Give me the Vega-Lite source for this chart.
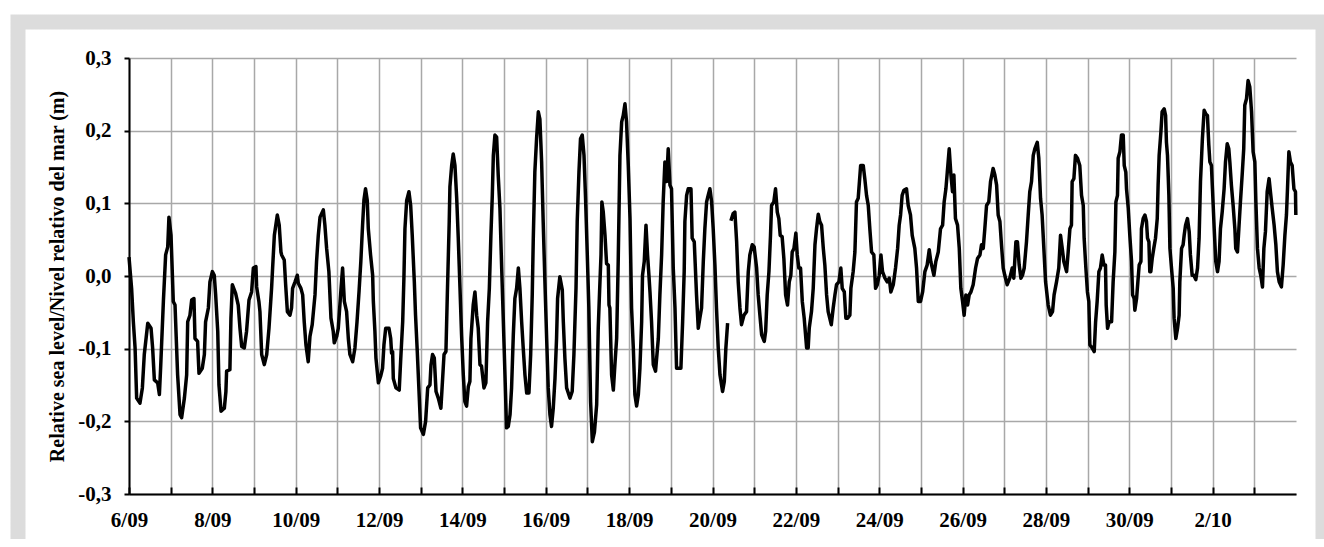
{
"$schema": "https://vega.github.io/schema/vega-lite/v6.json",
"width": 1305,
"height": 525,
"autosize": {"type": "none"},
"padding": {"left": 18, "top": 22, "right": 1, "bottom": 0},
"background": "white",
"view": {"fill": "white", "strokeWidth": 15, "stroke": {"gradient": "linear", "x1": 0, "y1": 0, "x2": 0, "y2": 1, "stops": [{"offset": 0, "color": "#dcdcdc"}, {"offset": 0.984, "color": "#dcdcdc"}, {"offset": 0.985, "color": "#ffffff"}, {"offset": 1, "color": "#ffffff"}]}},
"datasets": {
"seg1": [
{"h":0.0,"v":0.026},{"h":1.5,"v":-0.017},{"h":2.5,"v":-0.063},{"h":3.5,"v":-0.099},{"h":4.4,"v":-0.168},{"h":6.3,"v":-0.175},{"h":7.7,"v":-0.154},{"h":8.8,"v":-0.108},{"h":10.8,"v":-0.065},{"h":12.7,"v":-0.072},{"h":13.6,"v":-0.099},{"h":14.6,"v":-0.143},{"h":16.5,"v":-0.147},{"h":17.5,"v":-0.163},{"h":18.2,"v":-0.127},{"h":19.8,"v":-0.035},{"h":21.1,"v":0.029},{"h":22.3,"v":0.040},{"h":23.0,"v":0.081},{"h":24.2,"v":0.056},{"h":25.5,"v":-0.035},{"h":26.5,"v":-0.040},{"h":28.0,"v":-0.136},{"h":29.4,"v":-0.191},{"h":30.3,"v":-0.195},{"h":31.9,"v":-0.168},{"h":33.2,"v":-0.136},{"h":33.8,"v":-0.063},{"h":35.1,"v":-0.054},{"h":36.1,"v":-0.033},{"h":37.4,"v":-0.031},{"h":38.0,"v":-0.086},{"h":39.5,"v":-0.090},{"h":40.3,"v":-0.134},{"h":42.2,"v":-0.127},{"h":43.4,"v":-0.108},{"h":44.1,"v":-0.063},{"h":45.7,"v":-0.044},{"h":46.6,"v":-0.008},{"h":48.0,"v":0.006},{"h":49.1,"v":0.001},{"h":49.9,"v":-0.026},{"h":51.1,"v":-0.076},{"h":51.8,"v":-0.150},{"h":53.0,"v":-0.186},{"h":54.9,"v":-0.182},{"h":55.8,"v":-0.159},{"h":56.2,"v":-0.131},{"h":58.1,"v":-0.129},{"h":58.7,"v":-0.058},{"h":59.5,"v":-0.012},{"h":61.4,"v":-0.024},{"h":62.9,"v":-0.040},{"h":63.9,"v":-0.072},{"h":64.9,"v":-0.097},{"h":66.4,"v":-0.099},{"h":67.7,"v":-0.076},{"h":69.1,"v":-0.033},{"h":70.6,"v":-0.022},{"h":71.6,"v":0.011},{"h":73.1,"v":0.013},{"h":73.5,"v":-0.015},{"h":74.8,"v":-0.035},{"h":75.4,"v":-0.049},{"h":76.4,"v":-0.108},{"h":77.9,"v":-0.122},{"h":79.3,"v":-0.108},{"h":80.6,"v":-0.072},{"h":82.1,"v":-0.017},{"h":82.7,"v":0.011},{"h":83.7,"v":0.056},{"h":85.4,"v":0.084},{"h":86.5,"v":0.070},{"h":87.5,"v":0.033},{"h":87.9,"v":0.029},{"h":89.4,"v":0.022},{"h":90.2,"v":-0.012},{"h":91.2,"v":-0.049},{"h":92.7,"v":-0.054},{"h":93.6,"v":-0.044},{"h":94.2,"v":-0.017},{"h":95.6,"v":-0.008},{"h":96.9,"v":0.001},{"h":97.5,"v":-0.010},{"h":99.0,"v":-0.017},{"h":100.0,"v":-0.026},{"h":100.9,"v":-0.063},{"h":101.9,"v":-0.095},{"h":103.2,"v":-0.118},{"h":104.2,"v":-0.083},{"h":105.5,"v":-0.067},{"h":107.1,"v":-0.026},{"h":108.0,"v":0.020},{"h":109.0,"v":0.056},{"h":110.0,"v":0.081},{"h":111.9,"v":0.091},{"h":112.8,"v":0.070},{"h":113.8,"v":0.038},{"h":115.1,"v":0.006},{"h":116.3,"v":-0.058},{"h":117.6,"v":-0.076},{"h":118.2,"v":-0.092},{"h":119.6,"v":-0.083},{"h":120.5,"v":-0.072},{"h":122.1,"v":-0.017},{"h":123.0,"v":0.011},{"h":124.0,"v":-0.035},{"h":125.3,"v":-0.049},{"h":126.3,"v":-0.086},{"h":127.2,"v":-0.108},{"h":128.8,"v":-0.118},{"h":130.1,"v":-0.099},{"h":131.3,"v":-0.063},{"h":132.5,"v":-0.02},{"h":133.5,"v":0.02},{"h":134.5,"v":0.07},{"h":135.3,"v":0.105},{"h":136.2,"v":0.120},
{"h":137.2,"v":0.104},{"h":137.8,"v":0.065},{"h":139.1,"v":0.029},{"h":140.3,"v":0.001},{"h":140.7,"v":-0.035},{"h":141.6,"v":-0.076},{"h":142.2,"v":-0.113},{"h":143.6,"v":-0.147},{"h":144.9,"v":-0.138},{"h":146.0,"v":-0.127},{"h":146.8,"v":-0.095},{"h":147.8,"v":-0.072},{"h":149.7,"v":-0.072},{"h":150.7,"v":-0.086},{"h":151.2,"v":-0.106},{"h":151.8,"v":-0.104},{"h":152.2,"v":-0.141},{"h":153.7,"v":-0.154},{"h":155.6,"v":-0.157},{"h":156.4,"v":-0.118},{"h":157.6,"v":-0.063},{"h":158.3,"v":-0.003},{"h":158.9,"v":0.065},{"h":159.9,"v":0.104},{"h":161.2,"v":0.116},{"h":162.2,"v":0.097},{"h":163.1,"v":0.056},{"h":164.3,"v":-0.008},{"h":165.0,"v":-0.054},{"h":166.0,"v":-0.104},{"h":167.0,"v":-0.159},{"h":167.9,"v":-0.209},{"h":169.5,"v":-0.218},{"h":170.8,"v":-0.200},{"h":172.0,"v":-0.154},{"h":173.3,"v":-0.150},{"h":173.9,"v":-0.122},{"h":174.8,"v":-0.108},{"h":175.8,"v":-0.113},{"h":176.8,"v":-0.159},{"h":178.1,"v":-0.168},{"h":179.6,"v":-0.182},{"h":180.6,"v":-0.141},{"h":181.4,"v":-0.108},{"h":182.5,"v":-0.104},{"h":183.3,"v":-0.026},{"h":184.4,"v":0.075},{"h":184.8,"v":0.123},{"h":185.8,"v":0.152},{"h":186.7,"v":0.168},{"h":187.7,"v":0.152},{"h":188.7,"v":0.107},{"h":189.6,"v":0.052},{"h":190.6,"v":-0.017},{"h":191.5,"v":-0.081},{"h":192.5,"v":-0.136},{"h":193.4,"v":-0.173},{"h":194.4,"v":-0.179},{"h":195.4,"v":-0.152},{"h":196.3,"v":-0.145},{"h":196.9,"v":-0.086},{"h":198.2,"v":-0.040},{"h":199.2,"v":-0.022},{"h":200.2,"v":-0.054},{"h":201.1,"v":-0.072},{"h":202.1,"v":-0.122},{"h":203.0,"v":-0.124},{"h":204.4,"v":-0.154},{"h":205.5,"v":-0.147},{"h":206.5,"v":-0.063},{"h":207.5,"v":-0.017},{"h":208.4,"v":0.056},{"h":209.2,"v":0.111},{"h":209.8,"v":0.166},{"h":210.7,"v":0.194},{"h":211.7,"v":0.191},{"h":212.6,"v":0.139},{"h":213.6,"v":0.093},{"h":214.6,"v":0.011},{"h":215.5,"v":-0.058},{"h":216.5,"v":-0.136},{"h":217.4,"v":-0.209},{"h":218.4,"v":-0.207},{"h":219.4,"v":-0.191},{"h":220.3,"v":-0.154},{"h":221.3,"v":-0.081},{"h":222.2,"v":-0.031},{"h":223.2,"v":-0.017},{"h":224.2,"v":0.011},{"h":225.1,"v":-0.017},{"h":226.1,"v":-0.063},{"h":227.0,"v":-0.099},{"h":228.0,"v":-0.136},{"h":229.0,"v":-0.161},{"h":230.3,"v":-0.161},{"h":231.3,"v":-0.108},{"h":232.2,"v":-0.026},{"h":232.8,"v":0.052},{"h":233.7,"v":0.143},{"h":234.7,"v":0.189},{"h":235.7,"v":0.226},{"h":236.6,"v":0.216},{"h":237.6,"v":0.157},{"h":238.5,"v":0.075},{"h":239.5,"v":-0.008},{"h":240.5,"v":-0.086},{"h":241.4,"v":-0.154},{"h":242.4,"v":-0.191},{"h":243.3,"v":-0.207},{"h":244.3,"v":-0.182},{"h":245.3,"v":-0.141},{"h":246.2,"v":-0.086},{"h":246.8,"v":-0.031},{"h":248.1,"v":-0.001},{"h":249.5,"v":-0.019},{"h":250.1,"v":-0.063},{"h":251.0,"v":-0.113},{"h":252.0,"v":-0.154},{"h":253.9,"v":-0.168},{"h":255.2,"v":-0.159},{"h":256.2,"v":-0.108},{"h":257.4,"v":-0.017},{"h":258.1,"v":0.075},{"h":259.1,"v":0.143},{"h":260.0,"v":0.189},{"h":261.0,"v":0.194},{"h":262.0,"v":0.166},{"h":262.9,"v":0.107},{"h":263.9,"v":0.029},{"h":264.8,"v":-0.044},{"h":265.8,"v":-0.173},{"h":266.8,"v":-0.228},{"h":268.0,"v":-0.215},{"h":269.3,"v":-0.177},
{"h":270.2,"v":-0.072},{"h":271.0,"v":-0.02},{"h":271.8,"v":0.029},{"h":272.3,"v":0.102},{"h":273.1,"v":0.088},{"h":274.1,"v":0.056},{"h":275.0,"v":0.017},{"h":276.0,"v":0.015},{"h":276.4,"v":-0.040},{"h":276.9,"v":-0.044},{"h":277.9,"v":-0.136},{"h":278.9,"v":-0.157},{"h":279.8,"v":-0.122},{"h":280.8,"v":-0.086},{"h":281.7,"v":0.020},{"h":282.7,"v":0.166},{"h":283.7,"v":0.212},{"h":284.6,"v":0.221},{"h":285.6,"v":0.237},{"h":286.5,"v":0.212},{"h":287.5,"v":0.152},{"h":288.5,"v":0.079},{"h":289.4,"v":-0.044},{"h":290.4,"v":-0.099},{"h":291.3,"v":-0.163},{"h":292.3,"v":-0.179},{"h":293.3,"v":-0.163},{"h":294.2,"v":-0.127},{"h":295.2,"v":-0.063},{"h":295.7,"v":0.001},{"h":296.7,"v":0.020},{"h":297.7,"v":0.070},{"h":298.6,"v":0.029},{"h":299.4,"v":0.001},{"h":300.0,"v":-0.022},{"h":300.9,"v":-0.063},{"h":301.9,"v":-0.122},{"h":303.2,"v":-0.131},{"h":304.8,"v":-0.086},{"h":305.7,"v":-0.026},{"h":306.7,"v":0.029},{"h":307.6,"v":0.102},{"h":308.6,"v":0.157},{"h":309.6,"v":0.130},{"h":310.5,"v":0.175},{"h":311.5,"v":0.125},{"h":312.4,"v":0.120},{"h":313.4,"v":0.011},{"h":314.4,"v":-0.044},{"h":315.3,"v":-0.127},{"h":317.8,"v":-0.127},{"h":318.8,"v":-0.063},{"h":319.7,"v":0.006},{"h":320.1,"v":0.075},{"h":321.1,"v":0.111},{"h":322.0,"v":0.120},{"h":323.6,"v":0.120},{"h":324.3,"v":0.052},{"h":325.5,"v":0.047},{"h":326.8,"v":-0.026},{"h":327.8,"v":-0.072},{"h":328.7,"v":-0.058},{"h":329.7,"v":-0.044},{"h":330.7,"v":0.020},{"h":331.6,"v":0.065},{"h":332.6,"v":0.102},{"h":333.5,"v":0.111},{"h":334.5,"v":0.120},{"h":335.5,"v":0.102},{"h":336.4,"v":0.065},{"h":337.4,"v":0.015},{"h":338.3,"v":-0.044},{"h":339.3,"v":-0.099},{"h":340.3,"v":-0.136},{"h":341.8,"v":-0.159},{"h":342.8,"v":-0.145},{"h":343.7,"v":-0.099},{"h":344.7,"v":-0.065}
],
"seg2": [
{"h":346.6,"v":0.076},{"h":347.9,"v":0.086},{"h":348.9,"v":0.088},{"h":349.9,"v":0.047},{"h":350.8,"v":-0.008},{"h":351.8,"v":-0.044},{"h":352.7,"v":-0.067},{"h":354.1,"v":-0.054},{"h":355.6,"v":-0.049},{"h":356.6,"v":0.006},{"h":357.5,"v":0.029},{"h":358.9,"v":0.043},{"h":360.0,"v":0.040},{"h":361.4,"v":0.011},{"h":362.3,"v":-0.026},{"h":363.3,"v":-0.054},{"h":364.3,"v":-0.081},{"h":365.8,"v":-0.090},{"h":366.6,"v":-0.076},{"h":367.5,"v":-0.026},{"h":368.5,"v":0.006},{"h":369.4,"v":0.056},{"h":370.0,"v":0.097},{"h":371.3,"v":0.102},{"h":372.3,"v":0.120},{"h":373.3,"v":0.088},{"h":374.2,"v":0.079},{"h":375.0,"v":0.056},{"h":376.1,"v":0.054},{"h":377.1,"v":0.024},{"h":378.1,"v":-0.026},{"h":379.2,"v":-0.040},{"h":380.2,"v":-0.008},{"h":381.1,"v":0.001},{"h":381.9,"v":0.033},{"h":382.9,"v":0.038},{"h":384.0,"v":0.059},{"h":384.8,"v":0.029},{"h":385.7,"v":0.011},{"h":386.7,"v":0.011},{"h":387.7,"v":-0.035},{"h":388.8,"v":-0.058},{"h":390.2,"v":-0.099},{"h":391.1,"v":-0.099},{"h":391.7,"v":-0.072},{"h":393.0,"v":-0.049},{"h":394.0,"v":-0.017},{"h":395.0,"v":0.043},{"h":395.9,"v":0.065},{"h":396.9,"v":0.085},{"h":397.8,"v":0.075},{"h":398.8,"v":0.070},{"h":399.8,"v":0.038},{"h":400.7,"v":0.015},{"h":401.7,"v":-0.026},{"h":402.6,"v":-0.049},{"h":404.4,"v":-0.067},{"h":405.5,"v":-0.044},{"h":406.5,"v":-0.026},{"h":407.4,"v":-0.012},{"h":408.8,"v":-0.008},{"h":409.9,"v":0.011},{"h":410.7,"v":-0.017},{"h":411.9,"v":-0.022},{"h":412.8,"v":-0.058},{"h":413.8,"v":-0.058},{"h":415.1,"v":-0.054},{"h":415.7,"v":-0.017},{"h":417.0,"v":0.006},{"h":418.0,"v":0.033},{"h":418.9,"v":0.102},{"h":419.9,"v":0.107},{"h":421.3,"v":0.152},{"h":422.8,"v":0.152},{"h":423.7,"v":0.134},{"h":424.7,"v":0.111},{"h":425.7,"v":0.097},{"h":426.6,"v":0.065},{"h":427.6,"v":0.033},{"h":428.9,"v":0.029},{"h":429.9,"v":-0.017},{"h":430.9,"v":-0.012},{"h":432.0,"v":0.001},{"h":433.0,"v":0.029},{"h":433.9,"v":0.006},{"h":435.3,"v":-0.003},{"h":436.6,"v":-0.008},{"h":437.8,"v":-0.003},{"h":438.7,"v":-0.022},{"h":440.1,"v":-0.012},{"h":441.4,"v":0.011},{"h":442.6,"v":0.038},{"h":443.5,"v":0.070},{"h":444.3,"v":0.084},{"h":445.2,"v":0.111},{"h":446.2,"v":0.118},{"h":447.7,"v":0.120},{"h":448.7,"v":0.097},{"h":450.0,"v":0.084},{"h":451.0,"v":0.056},{"h":452.5,"v":0.038},{"h":453.5,"v":0.011},{"h":454.5,"v":-0.035},{"h":455.8,"v":-0.035},{"h":457.0,"v":-0.022},{"h":458.3,"v":0.006},{"h":459.6,"v":0.015},{"h":460.8,"v":0.036},{"h":461.7,"v":0.020},{"h":463.5,"v":0.001},{"h":464.6,"v":0.020},{"h":466.0,"v":0.033},{"h":467.3,"v":0.065},{"h":468.5,"v":0.070},{"h":469.4,"v":0.102},{"h":470.4,"v":0.120},{"h":471.2,"v":0.143},{"h":472.3,"v":0.175},{"h":473.3,"v":0.139},{"h":474.2,"v":0.116},{"h":475.0,"v":0.139},{"h":475.9,"v":0.079},{"h":477.1,"v":0.070},{"h":478.1,"v":0.038},{"h":479.0,"v":-0.017},{"h":480.0,"v":-0.035},{"h":480.9,"v":-0.054},{"h":481.9,"v":-0.026},{"h":482.9,"v":-0.040},{"h":483.8,"v":-0.026},{"h":484.8,"v":-0.022},{"h":486.1,"v":-0.012},{"h":487.5,"v":0.011},{"h":488.6,"v":0.024},{"h":490.0,"v":0.029},{"h":490.9,"v":0.043},{"h":491.9,"v":0.038},{"h":492.8,"v":0.065},{"h":493.8,"v":0.097},{"h":495.1,"v":0.102},{"h":496.1,"v":0.130},{"h":497.6,"v":0.148},{"h":498.6,"v":0.139},{"h":499.6,"v":0.125},{"h":500.5,"v":0.084},{"h":501.5,"v":0.075},{"h":502.4,"v":0.043},{"h":503.4,"v":0.011},{"h":504.3,"v":0.001},{"h":505.7,"v":-0.012},{"h":507.2,"v":-0.003},{"h":508.6,"v":0.011},{"h":509.5,"v":-0.003},{"h":510.7,"v":0.047},{"h":511.6,"v":0.047},{"h":512.6,"v":0.015},{"h":513.6,"v":-0.003},{"h":514.5,"v":0.001},{"h":515.5,"v":0.011},{"h":516.8,"v":0.047},{"h":517.8,"v":0.084},{"h":518.7,"v":0.116},{"h":519.7,"v":0.130},{"h":520.7,"v":0.166},{"h":521.6,"v":0.175},{"h":523.0,"v":0.184},{"h":523.9,"v":0.162},{"h":524.9,"v":0.107},{"h":525.8,"v":0.084},{"h":526.8,"v":0.038},{"h":527.8,"v":-0.008},{"h":529.3,"v":-0.040},{"h":530.6,"v":-0.054},{"h":531.8,"v":-0.049},{"h":532.7,"v":-0.026},{"h":534.1,"v":-0.008},{"h":535.4,"v":0.011},{"h":536.4,"v":0.056},{"h":537.4,"v":0.038},{"h":538.3,"v":0.020},{"h":539.9,"v":0.006},{"h":540.8,"v":0.033},{"h":541.8,"v":0.065},{"h":542.7,"v":0.070},{"h":543.1,"v":0.130},{"h":544.1,"v":0.134},{"h":545.0,"v":0.166},{"h":546.2,"v":0.162},{"h":547.5,"v":0.152},{"h":548.5,"v":0.111},{"h":549.5,"v":0.097},{"h":550.0,"v":0.052},{"h":551.0,"v":0.011},{"h":551.9,"v":-0.022},{"h":552.7,"v":-0.035},{"h":553.3,"v":-0.095},{"h":554.6,"v":-0.099},{"h":555.8,"v":-0.104},{"h":556.6,"v":-0.063},{"h":557.5,"v":-0.035},{"h":558.5,"v":0.006},{"h":559.4,"v":0.011},{"h":560.4,"v":0.029},{"h":561.4,"v":0.015},{"h":562.3,"v":0.015},{"h":562.7,"v":-0.040},{"h":563.5,"v":-0.072},{"h":564.4,"v":-0.063},{"h":565.8,"v":-0.063},{"h":566.7,"v":-0.008},{"h":567.7,"v":0.033},{"h":568.3,"v":0.102},{"h":569.2,"v":0.111},{"h":569.6,"v":0.162},{"h":570.6,"v":0.171},{"h":571.5,"v":0.194},{"h":572.5,"v":0.194},{"h":573.1,"v":0.152},{"h":574.0,"v":0.143},{"h":574.4,"v":0.120},{"h":575.4,"v":0.093},{"h":576.3,"v":0.056},{"h":577.3,"v":0.020},{"h":577.9,"v":-0.026},{"h":578.8,"v":-0.031},{"h":579.2,"v":-0.047},{"h":580.2,"v":-0.031},{"h":581.1,"v":-0.003},{"h":581.7,"v":0.015},{"h":582.7,"v":0.020},{"h":583.0,"v":0.065},{"h":584.0,"v":0.079},{"h":585.0,"v":0.084},{"h":585.9,"v":0.075},{"h":586.5,"v":0.052},{"h":587.3,"v":0.047},{"h":587.8,"v":0.006},{"h":588.4,"v":0.006},{"h":589.2,"v":0.024},{"h":590.1,"v":0.038},{"h":591.1,"v":0.052},{"h":592.1,"v":0.079},{"h":592.6,"v":0.125},{"h":593.2,"v":0.166},{"h":594.2,"v":0.198},{"h":594.9,"v":0.226},{"h":596.1,"v":0.230},{"h":596.9,"v":0.221},{"h":597.4,"v":0.184},{"h":598.0,"v":0.166},{"h":598.8,"v":0.111},{"h":599.4,"v":0.038},{"h":600.3,"v":0.011},{"h":601.3,"v":-0.017},{"h":601.8,"v":-0.058},{"h":602.8,"v":-0.086},{"h":603.8,"v":-0.072},{"h":604.7,"v":-0.054},{"h":605.1,"v":-0.008},{"h":606.1,"v":0.038},{"h":607.0,"v":0.043},{"h":607.6,"v":0.056},{"h":608.4,"v":0.070},{"h":609.5,"v":0.079},{"h":610.5,"v":0.061},{"h":611.2,"v":0.029},{"h":612.2,"v":0.001},{"h":613.2,"v":0.001},{"h":614.3,"v":-0.005},{"h":615.3,"v":0.011},{"h":616.2,"v":0.052},{"h":617.0,"v":0.130},{"h":618.1,"v":0.189},{"h":619.1,"v":0.228},{"h":620.1,"v":0.223},{"h":621.0,"v":0.221},{"h":621.8,"v":0.180},{"h":622.4,"v":0.157},{"h":623.3,"v":0.152},{"h":623.9,"v":0.120},{"h":624.9,"v":0.065},{"h":625.8,"v":0.020},{"h":626.8,"v":0.006},{"h":627.7,"v":0.020},{"h":628.5,"v":0.065},{"h":629.5,"v":0.088},{"h":630.6,"v":0.120},{"h":631.4,"v":0.157},{"h":632.4,"v":0.182},{"h":633.3,"v":0.175},{"h":633.9,"v":0.157},{"h":634.8,"v":0.125},{"h":635.8,"v":0.097},{"h":636.8,"v":0.065},{"h":637.3,"v":0.038},{"h":638.3,"v":0.033},{"h":639.1,"v":0.065},{"h":640.0,"v":0.102},{"h":641.0,"v":0.139},{"h":641.9,"v":0.175},{"h":642.5,"v":0.235},{"h":643.5,"v":0.244},{"h":644.4,"v":0.269},{"h":645.4,"v":0.260},{"h":646.4,"v":0.226},{"h":647.3,"v":0.171},{"h":648.3,"v":0.157},{"h":648.9,"v":0.102},{"h":649.8,"v":0.038},{"h":650.8,"v":0.011},{"h":651.7,"v":0.001},{"h":652.7,"v":-0.015},{"h":653.5,"v":0.038},{"h":654.4,"v":0.061},{"h":655.4,"v":0.116},{"h":656.5,"v":0.134},{"h":657.5,"v":0.111},{"h":658.3,"v":0.093},{"h":659.4,"v":0.070},{"h":660.4,"v":0.043},{"h":661.3,"v":0.006},{"h":662.3,"v":-0.008},{"h":663.6,"v":-0.015},{"h":664.6,"v":0.015},{"h":665.6,"v":0.056},{"h":666.5,"v":0.084},{"h":667.1,"v":0.120},{"h":667.9,"v":0.171},{"h":668.8,"v":0.157},{"h":669.8,"v":0.152},{"h":670.8,"v":0.120},{"h":671.7,"v":0.116},{"h":671.9,"v":0.084}
]
},
"encoding": {
"y": {"field": "v", "type": "quantitative",
 "scale": {"domain": [-0.3, 0.3], "range": [472, 36], "nice": false, "zero": false},
 "axis": {"title": "Relative sea level/Nivel relativo del mar  (m)", "offset": -111,
  "titleFont": "Liberation Serif", "titleFontWeight": "bold", "titleFontSize": 20, "titleColor": "black", "titlePadding": 10,
  "values": [-0.3,-0.2,-0.1,0,0.1,0.2,0.3],
  "labelExpr": "(datum.value < 0 ? '-' : '') + replace(format(abs(datum.value), '.1f'), '.', ',')",
  "labelFont": "Liberation Serif", "labelFontWeight": "bold", "labelFontSize": 21, "labelColor": "black",
  "labelPadding": 13, "labelFlush": false, "labelOverlap": false,
  "grid": true, "gridColor": "#a8a8a8", "gridWidth": 1.5,
  "ticks": true, "tickSize": 5, "tickColor": "black", "tickWidth": 2,
  "domain": true, "domainColor": "black", "domainWidth": 2}}
},
"resolve": {"axis": {"x": "independent"}},
"layer": [
{"data": {"name": "seg1"},
 "mark": {"type": "line", "color": "black", "strokeWidth": 3.5, "strokeJoin": "round", "clip": false},
 "encoding": {"x": {"field": "h", "type": "quantitative",
 "scale": {"domain": [0, 672], "range": [111, 1278], "nice": false, "zero": false},
 "axis": {"title": null, "orient": "bottom", "offset": -53,
  "values": [0,24,48,72,96,120,144,168,192,216,240,264,288,312,336,360,384,408,432,456,480,504,528,552,576,600,624,648],
  "labelExpr": "datum.value % 48 == 0 ? timeFormat(datetime(2013, 8, 6 + datum.value / 24), '%-d/%m') : ''",
  "labelFlush": false, "labelOverlap": false, "labelBound": false,
  "labelFont": "Liberation Serif", "labelFontWeight": "bold", "labelFontSize": 21, "labelColor": "black",
  "labelPadding": 22,
  "grid": false,
  "ticks": true, "tickSize": -7, "tickColor": "black", "tickWidth": 2,
  "domain": true, "domainColor": "black", "domainWidth": 2}}}},
{"data": {"name": "seg2"},
 "mark": {"type": "line", "color": "black", "strokeWidth": 3.5, "strokeJoin": "round", "clip": false},
 "encoding": {"x": {"field": "h", "type": "quantitative",
 "scale": {"domain": [0, 672], "range": [111, 1278], "nice": false, "zero": false},
 "axis": {"title": null, "orient": "top",
  "values": [0,24,48,72,96,120,144,168,192,216,240,264,288,312,336,360,384,408,432,456,480,504,528,552,576,600,624,648],
  "labels": false, "ticks": false, "domain": false,
  "grid": true, "gridColor": "#a8a8a8", "gridWidth": 1.5}}}}
]
}
